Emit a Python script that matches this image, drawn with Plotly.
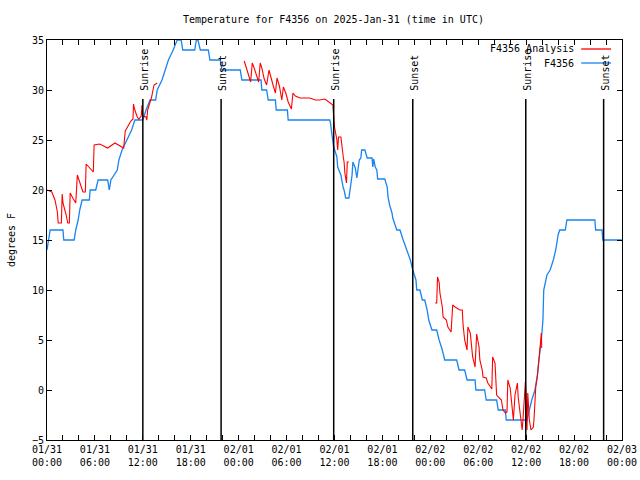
import datetime as dt
import plotly.graph_objects as go

BASE = dt.datetime(2025, 1, 31)

# Observed station temperature (hours since 2025-01-31 00:00 UTC, deg F)
obs_hours = [0.0, 0.4, 2.0, 2.1, 3.4, 3.6, 3.9, 4.1, 4.4, 5.3, 5.4, 6.1, 6.4, 7.6, 7.8, 8.0,
             8.8, 9.0, 9.4, 10.0, 10.6, 11.0, 12.0, 12.4, 12.9, 13.6, 13.8, 14.4, 14.8, 15.2,
             15.8, 16.3, 16.8, 17.0, 18.5, 18.7, 18.9, 19.2, 20.2, 20.4, 21.7, 21.9, 24.2,
             24.4, 26.8, 26.9, 27.5, 27.7, 28.6, 28.7, 30.1, 30.2, 35.4, 35.5, 35.6, 35.8,
             35.9, 36.1, 36.3, 36.4, 36.8, 37.1, 37.2, 37.4, 37.8, 38.0, 38.2, 38.3, 38.6,
             38.8, 38.9, 39.1, 39.3, 39.4, 39.8, 40.1, 40.7, 40.8, 40.9, 41.1, 41.3, 41.4,
             42.3, 42.6, 42.7, 42.9, 43.2, 43.3, 43.8, 44.2,
             44.6, 45.1, 45.5, 45.8, 46.2, 46.3, 46.7, 47.0, 47.3, 47.6, 47.8, 48.2, 48.8,
             49.1, 49.5, 49.8, 51.3, 51.6, 52.3, 52.6, 53.6, 53.7, 54.8, 55.0, 56.3, 56.5,
             57.4, 57.5, 60.1, 60.4, 60.7, 61.1, 61.4, 61.6, 61.9, 62.1, 62.2, 62.6, 63.0,
             63.4, 63.7, 64.0, 64.2, 64.9, 65.1, 68.6, 68.7, 69.5, 69.6, 72.0]
obs_temps = [14, 16, 16, 15, 15, 16, 17, 18, 19, 19, 20, 20, 21, 21, 20, 21,
             22, 23, 24, 25, 26, 27, 27, 28, 29, 29, 30, 31, 32, 33,
             34, 35, 35, 34, 34, 35, 35, 34, 34, 33, 33, 32, 32,
             31, 31, 30, 30, 29, 29, 28, 28, 27, 27, 26.7, 26, 25,
             24.3, 23.8, 23.3, 22.3, 21.5, 20.2, 20, 19.2, 19.2, 20.3, 21.5, 22.8, 22.2,
             21.2, 22, 23, 23.2, 24, 24, 23.2, 23.2, 22.3, 23.1, 22.3, 22, 21.1,
             21.1, 20.3, 19.3, 18.5, 17.7, 17.2, 16, 16,
             15, 14, 13, 12, 11, 10, 10, 9, 9, 8, 7, 6, 6,
             5, 4, 3, 3, 2, 2, 1, 1, 0, 0, -1, -1, -2,
             -2, -3, -3, -2, -1, 0, 1.5, 3, 5, 7, 10, 11.5, 12,
             13, 14, 15.5, 16, 16, 17, 17, 16, 16, 15, 15]

# Analysis series (None = gap)
ana_hours = [0.0, 0.6, 1.0, 1.3, 1.4, 1.8, 1.9, 2.0, 2.4, 2.6, 2.8, 2.9, 3.3, 3.6, 3.8, 4.1,
             4.5, 4.8, 4.9, 5.8, 5.9, 6.6, 7.6, 8.5, 9.4, 9.6, 9.8, 10.1, 10.5, 10.77, 10.83,
             11.0, 11.3, 11.5, 11.8, 11.9, 12.0, 12.4, 12.5, 12.6, 13.1, 13.4, 13.8,
             None,
             24.7, 25.2, 25.5, 25.7, 25.9, 26.3, 26.5, 26.7, 26.9, 27.2, 27.5, 27.8, 28.0,
             28.3, 28.6, 28.8, 29.1, 29.4, 29.6, 29.9, 30.2, 30.6, 30.8, 31.1, 31.7, 32.9,
             33.6, 34.1, 34.8, 35.4, 35.8, 35.9, 36.0, 36.3, 36.4, 36.5, 36.8, 37.1, 37.2,
             37.3, 37.5, 37.6, 37.8,
             None,
             48.6, 48.8, 48.9, 49.1, 49.2, 49.5, 49.6, 50.0, 50.2, 50.6, 50.8, 51.1, 51.7,
             52.0, 52.1, 52.3, 52.6, 52.7, 53.0, 53.2, 53.3, 53.6, 53.8, 54.1, 54.2, 54.5,
             54.6, 55.0, 55.2, 55.7, 55.8, 56.1, 56.3, 56.5, 56.9, 57.1, 57.4, 57.6, 57.7,
             58.0, 58.2, 58.4, 58.6, 58.9, 59.0, 59.2, 59.5, 59.6, 59.9, 60.0, 60.1, 60.2,
             60.4, 60.6, 60.9, 61.0, 61.2, 61.4, 61.6, 61.9, 61.95]
ana_temps = [20, 19.8, 19, 17.8, 16.7, 16.7, 19.6, 18.7, 17.5, 16.7, 16.7, 19.7, 19.1, 18.7, 21.5, 20.7,
             19.8, 19.8, 22.6, 21.8, 24.5, 24.6, 24.2, 24.7, 24.3, 24.2, 25.9, 26.3, 26.9, 27.1, 28.6,
             28, 27.3, 27.1, 27.4, 28.5, 27.4, 27.3, 27, 28, 29.3, 30.5, 30.7,
             None,
             32.9, 31.7, 30.8, 32.7, 32.3, 31.3, 30.8, 32.7, 32.2, 31.1, 30.5, 32, 31.3,
             30.5, 29.7, 31.2, 30.4, 29, 30.3, 29.7, 28.8, 28.1, 29.7, 29.4, 29.2, 29.2,
             29, 29, 29.1, 28.7, 28.5, 27.3, 26.3, 25, 24, 25.3, 25.3, 23.3, 22.8,
             21.7, 20.7, 22.8, 22.8,
             None,
             8.7, 8.7, 11.3, 10.8, 9.7, 8.3, 7.3, 7, 6.3, 5.8, 8.5, 8.3, 8,
             8, 6.5, 5, 4, 6.3, 5.7, 4, 3.3, 2.3, 5.6, 4.3, 3, 2,
             1.3, 1.2, 0.7, 0.1, 3.3, 2.7, -0.5, -0.7, -1, -2, -2.3, -2.2, 1,
             0.2, -1.7, -3, -0.5, 0.7, -0.7, -2.3, -4, -3, 0.8, -0.7, -4, -0.3,
             -3, -4, -3.7, -2.7, 0.3, 1.3, 3, 5.7, 4.2]

# Sun events (hours since 2025-01-31 00:00 UTC)
sun_labels = ["Sunrise", "Sunset", "Sunrise", "Sunset", "Sunrise", "Sunset"]
sun_hours = [12.0, 21.8, 35.9, 45.8, 59.95, 69.7]
sun_line_top = 29.1

y_ticks = [-5, 0, 5, 10, 15, 20, 25, 30, 35]


def to_time(h):
    return None if h is None else BASE + dt.timedelta(hours=h)


FONT = "DejaVu Sans Mono"
RED = "#ff0000"
BLUE = "#1a84f0"

fig = go.Figure()
fig.add_trace(go.Scatter(x=[to_time(h) for h in obs_hours], y=obs_temps, mode="lines",
                         line=dict(color=BLUE, width=1.3), name="F4356"))
fig.add_trace(go.Scatter(x=[to_time(h) for h in ana_hours], y=ana_temps, mode="lines",
                         line=dict(color=RED, width=1.1), name="F4356 Analysis",
                         connectgaps=False))

for lab, h in zip(sun_labels, sun_hours):
    t = to_time(h)
    fig.add_shape(type="line", x0=t, x1=t, y0=-5, y1=sun_line_top, xref="x", yref="y",
                  line=dict(color="black", width=1.5))
    fig.add_annotation(x=t, y=sun_line_top + 0.6, xref="x", yref="y", text=lab,
                       textangle=-90, showarrow=False, xanchor="center", yanchor="bottom",
                       xshift=1, font=dict(family=FONT, size=10, color="black"))

# manual gnuplot-style legend (text right, sample to its right)
legend_items = [("F4356 Analysis", RED), ("F4356", BLUE)]
for i, (name, col) in enumerate(legend_items):
    yp = 0.9775 - i * 0.035
    fig.add_annotation(x=0.92, y=yp, xref="paper", yref="paper", text=name, showarrow=False,
                       xanchor="right", yanchor="middle",
                       font=dict(family=FONT, size=10, color="black"))
    fig.add_shape(type="line", x0=0.929, x1=0.981, y0=yp, y1=yp, xref="paper", yref="paper",
                  line=dict(color=col, width=1.3))

fig.update_layout(
    width=640, height=480,
    margin=dict(l=47, r=18, t=40, b=40, autoexpand=False),
    paper_bgcolor="white", plot_bgcolor="white",
    showlegend=False,
    title=dict(text="Temperature for F4356 on 2025-Jan-31 (time in UTC)", x=0.521, xanchor="center",
               y=0.96, yanchor="middle", font=dict(family=FONT, size=10, color="black")),
    font=dict(family=FONT, size=10, color="black"),
)
fig.update_xaxes(
    type="date", range=[BASE, BASE + dt.timedelta(hours=72)], automargin=False,
    tick0=BASE, dtick=6 * 3600 * 1000, tickformat="%m/%d<br>%H:%M",
    ticks="inside", ticklen=5, tickcolor="black",
    minor=dict(dtick=2 * 3600 * 1000, ticks="inside", ticklen=5, tickcolor="black", showgrid=False),
    showgrid=False, zeroline=False, showline=True, linecolor="black", linewidth=1,
    mirror="allticks", tickfont=dict(family=FONT, size=10, color="black"),
)
fig.update_yaxes(
    range=[-5, 35], tickvals=y_ticks, ticks="inside", ticklen=5, tickcolor="black",
    automargin=False,
    showgrid=False, zeroline=False, showline=True, linecolor="black", linewidth=1,
    mirror="allticks", tickfont=dict(family=FONT, size=10, color="black"),
    title=dict(text="degrees F", font=dict(family=FONT, size=10, color="black"), standoff=14),
)

fig.write_html("out.html", config={"displayModeBar": False},
               post_script="document.body.style.margin='0';document.body.style.overflow='hidden';")
